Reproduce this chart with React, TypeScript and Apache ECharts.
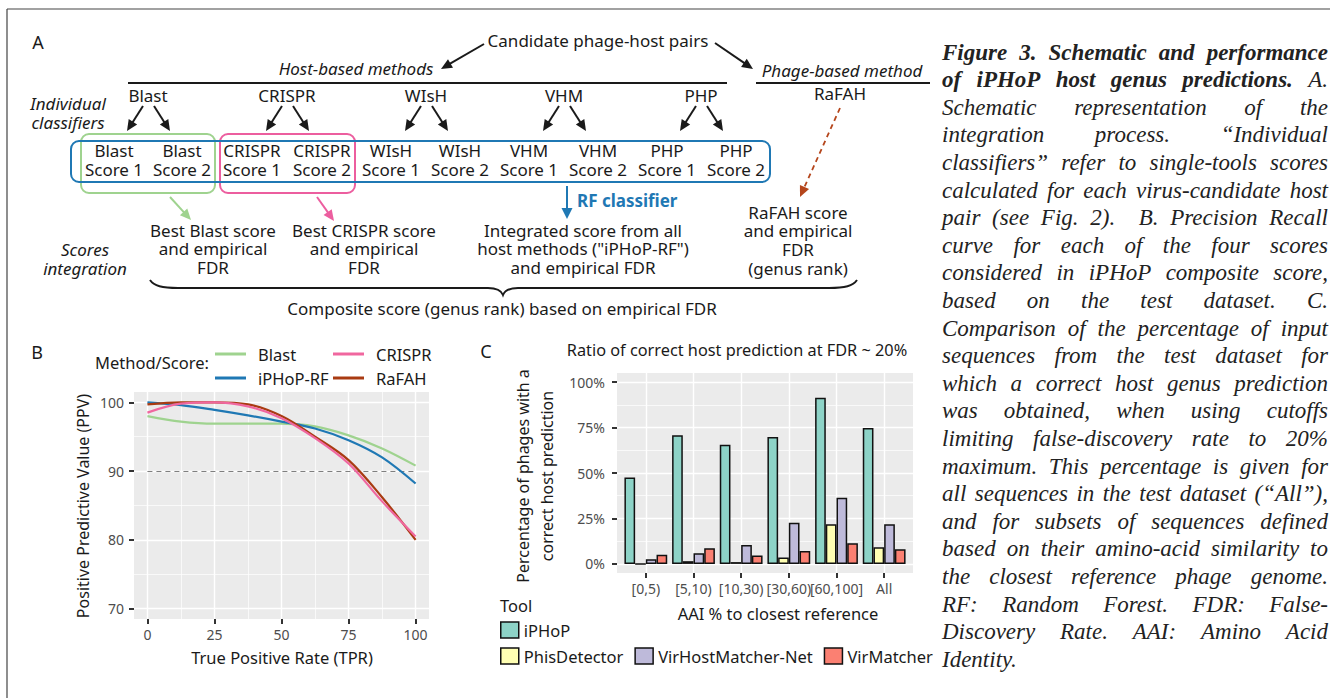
import React, { useEffect, useRef } from "react";
import * as echarts from "echarts";

// ---------------- Panel B data (precision / recall curves) ----------------
const TPR = [0, 12.5, 25, 37.5, 50, 62.5, 75, 87.5, 100];
const PPV_BLAST = [98.0, 97.2, 96.9, 96.9, 96.9, 96.5, 95.2, 93.3, 90.8];
const PPV_IPHOP_RF = [100.0, 99.6, 98.9, 98.1, 97.2, 96.2, 94.5, 92.0, 88.2];
const PPV_CRISPR = [98.5, 99.8, 100.0, 99.4, 97.7, 94.8, 91.1, 85.6, 80.5];
const PPV_RAFAH = [99.7, 100.0, 100.0, 99.7, 98.0, 95.0, 91.6, 86.2, 80.0];
const B_X_TICKS = [0, 25, 50, 75, 100];
const B_X_MINOR = [12.5, 37.5, 62.5, 87.5];
const B_Y_TICKS = [70, 80, 90, 100];
const B_Y_MINOR = [75, 85, 95];
const PPV_THRESHOLD = 90;

// ---------------- Panel C data (bar chart) ----------------
const AAI_BINS = ["[0,5)", "[5,10)", "[10,30)", "[30,60)", "[60,100]", "All"];
const PCT_IPHOP = [47.5, 70.7, 65.6, 69.8, 91.4, 74.8];
const PCT_PHISDETECTOR = [0, 1.5, 1.0, 3.5, 21.8, 9.1];
const PCT_VHMNET = [2.6, 5.8, 10.4, 22.7, 36.4, 21.8];
const PCT_VIRMATCHER = [5.1, 8.6, 4.6, 7.1, 11.3, 8.0];
const C_Y_TICKS = [0, 25, 50, 75, 100];
const C_Y_MINOR = [12.5, 37.5, 62.5, 87.5];

// ---------------- Panel A labels ----------------
const METHODS = ["Blast", "CRISPR", "WIsH", "VHM", "PHP"];

// ---------------- Caption ----------------
const CAPTION_LINES = [
  "Figure 3. Schematic and performance",
  "of iPHoP host genus predictions. A.",
  "Schematic representation of the",
  "integration process. \u201CIndividual",
  "classifiers\u201D refer to single-tools scores",
  "calculated for each virus-candidate host",
  "pair (see Fig. 2).  B. Precision Recall",
  "curve for each of the four scores",
  "considered in iPHoP composite score,",
  "based on the test dataset. C.",
  "Comparison of the percentage of input",
  "sequences from the test dataset for",
  "which a correct host genus prediction",
  "was obtained, when using cutoffs",
  "limiting false-discovery rate to 20%",
  "maximum. This percentage is given for",
  "all sequences in the test dataset (\u201CAll\u201D),",
  "and for subsets of sequences defined",
  "based on their amino-acid similarity to",
  "the closest reference phage genome.",
  "RF: Random Forest. FDR: False-",
  "Discovery Rate. AAI: Amino Acid",
  "Identity.",
];
const CAPTION_BOLD_WORDS = [5, 5];

const FONT = "'Noto Sans', sans-serif";
const SERIF = "'Liberation Serif', serif";
const INK = "#1a1a1a";
const BLUE = "#1f78b4";
const GREEN = "#9fd38f";
const PINK = "#ec5e9f";
const BROWN = "#a93b12";
const TICK = "#333333";

const BRACE_D =
  "M150 280 C154 286 162 288 178 288 L488 288 C497 288 501 290 503 295 C505 290 509 288 518 288 L829 288 C845 288 853 286 857 280";
let braceRegistered = false;
function ensureBrace() {
  if (!braceRegistered) {
    echarts.graphic.registerShape("brace", echarts.graphic.extendPath(BRACE_D, {}));
    braceRegistered = true;
  }
}

type TOpt = {
  size?: number;
  italic?: boolean;
  bold?: boolean;
  align?: string;
  fill?: string;
  family?: string;
  rotation?: number;
  lineHeight?: number;
};
// single- or multi-line (unrotated) text; y is the vertical centre of the block
function txt(x: number, y: number, text: string, o: TOpt = {}) {
  const size = o.size || 17;
  const lh = o.lineHeight || Math.round(size * 1.1);
  const nLines = text.split("\n").length;
  return {
    type: "text",
    x,
    y: nLines > 1 ? y - (nLines * lh) / 2 : y,
    rotation: o.rotation || 0,
    silent: true,
    style: {
      text,
      fill: o.fill || INK,
      font: `${o.italic ? "italic " : ""}${o.bold ? "bold " : ""}${size}px ${o.family || FONT}`,
      lineHeight: lh,
      textAlign: o.align || "center",
      textVerticalAlign: nLines > 1 ? "top" : "middle",
    },
  };
}

function arrow(
  x1: number,
  y1: number,
  x2: number,
  y2: number,
  color: string,
  o: { lw?: number; hl?: number; hw?: number; dash?: boolean } = {}
) {
  const lw = o.lw ?? 2;
  const hl = o.hl ?? 11;
  const hw = o.hw ?? 5;
  const dx = x2 - x1;
  const dy = y2 - y1;
  const L = Math.hypot(dx, dy);
  const ux = dx / L;
  const uy = dy / L;
  const bx = x2 - ux * hl;
  const by = y2 - uy * hl;
  return [
    {
      type: "line",
      silent: true,
      shape: { x1, y1, x2: bx + ux * 2, y2: by + uy * 2 },
      style: { stroke: color, lineWidth: lw, lineDash: o.dash ? [5, 4] : null },
    },
    {
      type: "polygon",
      silent: true,
      shape: {
        points: [
          [x2, y2],
          [bx - uy * hw, by + ux * hw],
          [bx + uy * hw, by - ux * hw],
        ],
      },
      style: { fill: color },
    },
  ];
}

function panelA(): any[] {
  const els: any[] = [];
  // frame
  els.push({ type: "line", silent: true, shape: { x1: 7, y1: 9, x2: 1330, y2: 9 }, style: { stroke: "#444", lineWidth: 1.2 } });
  els.push({ type: "line", silent: true, shape: { x1: 7, y1: 9, x2: 7, y2: 698 }, style: { stroke: "#444", lineWidth: 1.2 } });

  els.push(txt(38, 42, "A", { size: 18 }));
  els.push(txt(598, 40, "Candidate phage-host pairs"));
  els.push(...arrow(484, 44, 441, 69, INK));
  els.push(...arrow(715, 43, 753, 69, INK));
  els.push(txt(356, 68, "Host-based methods", { italic: true }));
  els.push(txt(842, 70, "Phage-based method", { italic: true }));
  els.push({ type: "line", silent: true, shape: { x1: 128, y1: 83, x2: 727, y2: 83 }, style: { stroke: INK, lineWidth: 2 } });
  els.push({ type: "line", silent: true, shape: { x1: 756, y1: 83, x2: 930, y2: 83 }, style: { stroke: INK, lineWidth: 2 } });
  els.push(txt(840, 93, "RaFAH"));
  els.push(txt(68, 112.5, "Individual\nclassifiers", { italic: true, lineHeight: 19 }));

  const methodX = [148, 287, 426, 564, 701];
  METHODS.forEach((m, i) => {
    const cx = methodX[i];
    els.push(txt(cx, 95, m));
    els.push(...arrow(cx - 5, 106, cx - 21, 131, INK));
    els.push(...arrow(cx + 6, 106, cx + 22, 131, INK));
  });

  // boxes
  els.push({ type: "rect", silent: true, shape: { x: 81, y: 134, width: 134, height: 59, r: 8 }, style: { fill: "none", stroke: GREEN, lineWidth: 2 } });
  els.push({ type: "rect", silent: true, shape: { x: 220, y: 134, width: 135, height: 59, r: 8 }, style: { fill: "none", stroke: PINK, lineWidth: 2 } });
  els.push({ type: "rect", silent: true, shape: { x: 71, y: 141, width: 699, height: 41, r: 8 }, style: { fill: "none", stroke: BLUE, lineWidth: 2 } });

  const scoreX = [114, 182, 252, 322, 391, 460, 529, 598, 667, 736];
  scoreX.forEach((x, i) => {
    els.push(txt(x, 159.5, `${METHODS[Math.floor(i / 2)]}\nScore ${(i % 2) + 1}`, { lineHeight: 19 }));
  });

  els.push(...arrow(170, 197, 191, 220, GREEN));
  els.push(...arrow(317, 197, 334, 221, PINK));
  els.push(...arrow(567, 186, 567, 219, BLUE, { hw: 5.5 }));
  els.push(txt(577, 200, "RF classifier", { bold: true, align: "left", fill: BLUE }));
  els.push(...arrow(840, 108, 800, 197, "#b5461c", { dash: true, lw: 1.8 }));

  const stack = (cx: number, y0: number, lines: string[]) =>
    els.push(txt(cx, y0 + ((lines.length - 1) * 18.8) / 2, lines.join("\n"), { lineHeight: 18.8 }));
  stack(213, 230, ["Best Blast score", "and empirical", "FDR"]);
  stack(364, 230, ["Best CRISPR score", "and empirical", "FDR"]);
  stack(583, 230, ["Integrated score from all", 'host methods ("iPHoP-RF")', "and empirical FDR"]);
  stack(798, 212, ["RaFAH score", "and empirical", "FDR", "(genus rank)"]);
  els.push(txt(85, 258.5, "Scores\nintegration", { italic: true, lineHeight: 19 }));

  ensureBrace();
  els.push({
    type: "brace",
    silent: true,
    x: 0,
    y: 0,
    scaleX: 1,
    scaleY: 1,
    shape: {},
    style: { fill: "none", stroke: INK, lineWidth: 2 },
  });
  els.push(txt(502, 308, "Composite score (genus rank) based on empirical FDR"));
  return els;
}

function axisTitles(): any[] {
  return [
    txt(37, 352, "B", { size: 18 }),
    txt(95, 362, "Method/Score:", { size: 16.5, align: "left" }),
    txt(282, 657, "True Positive Rate (TPR)", { size: 16.5 }),
    txt(83, 506, "Positive Predictive Value (PPV)", { size: 16, rotation: Math.PI / 2 }),
    txt(486, 351, "C", { size: 18 }),
    txt(737, 350, "Ratio of correct host prediction at FDR ~ 20%", { size: 16.3 }),
    txt(778, 613, "AAI % to closest reference", { size: 16.5 }),
    txt(523, 476, "Percentage of phages with a", { size: 16, rotation: Math.PI / 2 }),
    txt(547, 476, "correct host prediction", { size: 16, rotation: Math.PI / 2 }),
    txt(500, 605, "Tool", { size: 16.5, align: "left" }),
  ];
}

function caption(): any[] {
  const els: any[] = [];
  const canvas = document.createElement("canvas");
  const ctx = canvas.getContext("2d")!;
  const size = 23;
  const fontOf = (bold: boolean) => `italic ${bold ? "bold " : ""}${size}px ${SERIF}`;
  const measure = (s: string, f: string) => {
    ctx.font = f;
    return ctx.measureText(s).width;
  };
  const X0 = 942;
  const X1 = 1328;
  CAPTION_LINES.forEach((line, i) => {
    const y = 52 + i * 27.6;
    const tokens = line.split(" ");
    const boldCount = CAPTION_BOLD_WORDS[i] ?? 0;
    let wordIdx = 0;
    const info = tokens.map((t) => {
      const bold = t !== "" && wordIdx < boldCount;
      if (t !== "") wordIdx++;
      const f = fontOf(bold);
      return { t, f, w: t ? measure(t, f) : 0, bold };
    });
    const spaceW = measure(" ", fontOf(false));
    const natural = info.reduce((s, v) => s + v.w, 0) + (tokens.length - 1) * spaceW;
    const last = i === CAPTION_LINES.length - 1;
    const extra = !last && tokens.length > 1 ? (X1 - X0 - natural) / (tokens.length - 1) : 0;
    let x = X0;
    info.forEach((v) => {
      if (v.t) {
        els.push({
          type: "text",
          x,
          y,
          silent: true,
          style: {
            text: v.t,
            font: v.f,
            fill: "#222",
            lineHeight: 24,
            textAlign: "left",
            textVerticalAlign: "middle",
          },
        });
      }
      x += v.w + spaceW + extra;
    });
  });
  return els;
}

const WHITE_MAJOR = { color: "#ffffff", width: 1.4, type: "solid" };
const WHITE_MINOR = { color: "#ffffff", width: 0.7, type: "solid" };
const TICK_STYLE = { color: TICK, width: 2, type: "solid" };
const markBase = {
  silent: true,
  symbol: ["none", "none"],
  label: { show: false },
  emphasis: { disabled: true },
  animation: false,
};

function buildOption(): any {
  const labelStyle = { color: "#4d4d4d", fontSize: 14, fontFamily: FONT };
  const noTick = { show: false };
  const noLine = { show: false };
  const pairs = (ys: number[]) => TPR.map((x, i) => [x, ys[i]]);
  const curve = (name: string, ys: number[], color: string) => ({
    type: "line",
    name,
    xAxisIndex: 0,
    yAxisIndex: 0,
    data: pairs(ys),
    smooth: 0.35,
    showSymbol: false,
    silent: true,
    z: 3,
    color,
    itemStyle: { color },
    lineStyle: { color, width: 2.2 },
  });
  const bar = (name: string, vals: number[], color: string) => ({
    type: "bar",
    name,
    xAxisIndex: 2,
    yAxisIndex: 2,
    data: vals,
    barWidth: 10.7,
    barGap: "0%",
    silent: true,
    z: 2,
    itemStyle: { color, borderColor: "#111", borderWidth: 1.5 },
  });
  const markSeries = (name: string, xi: number, yi: number, data: any[], z = 1) => ({
    type: "line",
    name,
    xAxisIndex: xi,
    yAxisIndex: yi,
    data: [],
    silent: true,
    markLine: { ...markBase, z, data },
  });
  const legendText = { fontSize: 16.5, fontFamily: FONT, color: INK };
  const hiddenVal = (gridIndex: number, min: number, max: number) => ({
    gridIndex,
    type: "value",
    min,
    max,
    show: false,
  });

  return {
    animation: false,
    backgroundColor: "#ffffff",
    textStyle: { fontFamily: FONT },
    grid: [
      // 0: panel B plot
      { left: 134, top: 392, width: 295, height: 227, show: true, backgroundColor: "#ebebeb", borderWidth: 0 },
      // 1: panel C background + y axis
      { left: 617, top: 373, width: 296, height: 200, show: true, backgroundColor: "#ebebeb", borderWidth: 0 },
      // 2: panel C bars
      { left: 622, top: 373, width: 286, height: 200 },
      // 3: B x tick strip
      { left: 134, top: 619, width: 295, height: 5 },
      // 4: B y tick strip
      { left: 129, top: 392, width: 5, height: 227 },
      // 5: C x tick strip
      { left: 622, top: 573, width: 286, height: 5 },
      // 6: C y tick strip
      { left: 612, top: 373, width: 5, height: 200 },
    ],
    xAxis: [
      {
        gridIndex: 0,
        type: "value",
        min: -5,
        max: 105,
        axisLine: noLine,
        splitLine: { show: false },
        axisTick: noTick,
        axisLabel: { customValues: B_X_TICKS, margin: 8, ...labelStyle },
      },
      hiddenVal(1, 0, 1),
      {
        gridIndex: 2,
        type: "category",
        data: AAI_BINS,
        axisLine: noLine,
        splitLine: { show: false },
        axisTick: noTick,
        axisLabel: { interval: 0, margin: 8, ...labelStyle },
      },
      hiddenVal(3, -5, 105),
      hiddenVal(4, 0, 1),
      { gridIndex: 5, type: "category", data: AAI_BINS, show: false },
      hiddenVal(6, 0, 1),
    ],
    yAxis: [
      {
        gridIndex: 0,
        type: "value",
        min: 68.5,
        max: 101.5,
        axisLine: noLine,
        splitLine: { show: false },
        axisTick: noTick,
        axisLabel: { customValues: B_Y_TICKS, margin: 10, ...labelStyle },
      },
      {
        gridIndex: 1,
        type: "value",
        min: -5,
        max: 105,
        axisLine: noLine,
        splitLine: { show: false },
        axisTick: noTick,
        axisLabel: { customValues: C_Y_TICKS, margin: 12, formatter: "{value}%", ...labelStyle },
      },
      hiddenVal(2, -5, 105),
      hiddenVal(3, 0, 1),
      hiddenVal(4, 68.5, 101.5),
      hiddenVal(5, 0, 1),
      hiddenVal(6, -5, 105),
    ],
    legend: [
      {
        data: ["Blast", "iPHoP-RF"],
        orient: "vertical",
        left: 215,
        top: 344,
        icon: "rect",
        itemWidth: 31,
        itemHeight: 3,
        itemGap: 4,
        padding: 0,
        selectedMode: false,
        textStyle: { ...legendText, lineHeight: 20, padding: [0, 0, 0, 7] },
      },
      {
        data: ["CRISPR", "RaFAH"],
        orient: "vertical",
        left: 333,
        top: 344,
        icon: "rect",
        itemWidth: 31,
        itemHeight: 3,
        itemGap: 4,
        padding: 0,
        selectedMode: false,
        textStyle: { ...legendText, lineHeight: 20, padding: [0, 0, 0, 7] },
      },
      {
        data: ["iPHoP"],
        orient: "horizontal",
        left: 500,
        top: 621,
        icon: "rect",
        itemWidth: 18,
        itemHeight: 16,
        padding: 0,
        selectedMode: false,
        itemStyle: { borderColor: "#111", borderWidth: 1.5 },
        textStyle: { ...legendText, lineHeight: 18 },
      },
      {
        data: ["PhisDetector", "VirHostMatcher-Net", "VirMatcher"],
        orient: "horizontal",
        left: 500,
        top: 647,
        icon: "rect",
        itemWidth: 18,
        itemHeight: 16,
        itemGap: 11,
        padding: 0,
        selectedMode: false,
        itemStyle: { borderColor: "#111", borderWidth: 1.5 },
        textStyle: { ...legendText, lineHeight: 18 },
      },
    ],
    series: [
      markSeries("_gridB", 0, 0, [
        ...B_X_MINOR.map((v) => ({ xAxis: v, lineStyle: WHITE_MINOR })),
        ...B_Y_MINOR.map((v) => ({ yAxis: v, lineStyle: WHITE_MINOR })),
        ...B_X_TICKS.map((v) => ({ xAxis: v, lineStyle: WHITE_MAJOR })),
        ...B_Y_TICKS.map((v) => ({ yAxis: v, lineStyle: WHITE_MAJOR })),
        [
          { coord: [0, PPV_THRESHOLD], lineStyle: { color: "#7f7f7f", width: 1.2, type: [5, 4] } },
          { coord: [100, PPV_THRESHOLD], lineStyle: { color: "#7f7f7f", width: 1.2, type: [5, 4] } },
        ],
      ]),
      curve("Blast", PPV_BLAST, GREEN),
      curve("iPHoP-RF", PPV_IPHOP_RF, BLUE),
      curve("RaFAH", PPV_RAFAH, BROWN),
      curve("CRISPR", PPV_CRISPR, "#f0679f"),
      markSeries("_gridC", 1, 1, [
        ...C_Y_MINOR.map((v) => ({ yAxis: v, lineStyle: WHITE_MINOR })),
        ...C_Y_TICKS.map((v) => ({ yAxis: v, lineStyle: WHITE_MAJOR })),
      ]),
      markSeries("_gridCx", 2, 2, AAI_BINS.map((c) => ({ xAxis: c, lineStyle: WHITE_MAJOR }))),
      // axis tick marks
      markSeries("_tickBx", 3, 3, B_X_TICKS.map((v) => ({ xAxis: v, lineStyle: TICK_STYLE })), 5),
      markSeries("_tickBy", 4, 4, B_Y_TICKS.map((v) => ({ yAxis: v, lineStyle: TICK_STYLE })), 5),
      markSeries("_tickCx", 5, 5, AAI_BINS.map((c) => ({ xAxis: c, lineStyle: TICK_STYLE })), 5),
      markSeries("_tickCy", 6, 6, C_Y_TICKS.map((v) => ({ yAxis: v, lineStyle: TICK_STYLE })), 5),
      bar("iPHoP", PCT_IPHOP, "#8dd3c7"),
      bar("PhisDetector", PCT_PHISDETECTOR, "#ffffb3"),
      bar("VirHostMatcher-Net", PCT_VHMNET, "#bebada"),
      bar("VirMatcher", PCT_VIRMATCHER, "#fb8072"),
    ],
    graphic: { elements: [...panelA(), ...axisTitles(), ...caption()] },
  };
}

export default function App() {
  const ref = useRef<HTMLDivElement>(null);
  useEffect(() => {
    if (!ref.current) return;
    const chart = echarts.init(ref.current, null, { renderer: "svg" });
    chart.setOption(buildOption());
    return () => chart.dispose();
  }, []);
  return (
    <div
      ref={ref}
      style={{ position: "absolute", left: 0, top: 0, width: 1330, height: 698, background: "#fff" }}
    />
  );
}
